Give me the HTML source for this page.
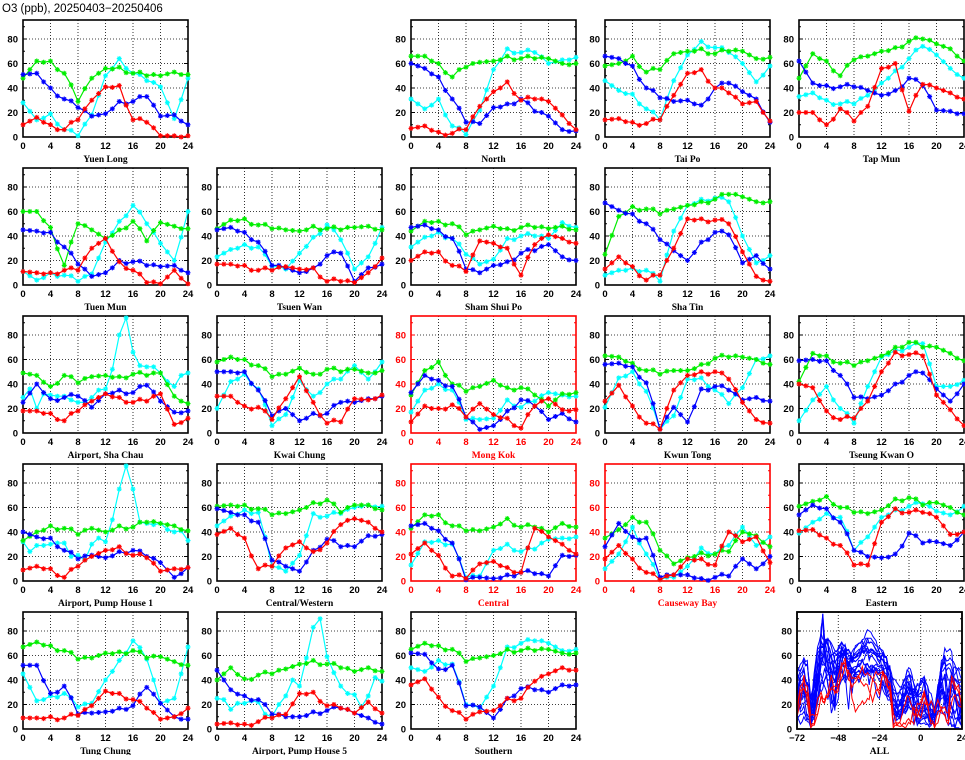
<!DOCTYPE html>
<html><head><meta charset="utf-8"><style>
body{margin:0;background:#fff;width:965px;height:755px;overflow:hidden}
svg text{font-family:"Liberation Sans",sans-serif;font-weight:bold}
</style></head><body>
<svg id="s" width="965" height="755" xmlns="http://www.w3.org/2000/svg">
<text x="2" y="12" font-size="11.5" style="font-weight:normal">O3 (ppb), 20250403−20250406</text>
</svg>
<script>
const S=[
[0,0,"Yuen Long",0,[[28,14,19,6,1,18,50,64,52,46,41,15,48],[48,62,62,52,29,48,56,57,52,50,50,53,51],[51,52,40,31,24,17,19,29,29,33,17,18,10],[10,16,10,6,14,30,41,42,14,12,1,1,1]]],
[0,2,"North",0,[[31,23,31,9,2,22,55,72,69,69,60,63,65],[66,66,60,49,57,61,62,66,64,64,64,60,60],[60,56,49,31,12,11,24,27,31,21,17,6,5],[7,9,4,3,6,25,37,45,30,31,29,18,6]]],
[0,3,"Tai Po",0,[[46,38,35,23,14,46,67,78,73,69,60,45,58],[58,60,66,53,55,68,70,72,68,70,70,64,65],[66,64,58,40,32,29,30,26,40,44,37,31,12],[14,15,12,11,14,34,52,55,40,36,27,29,13]]],
[0,4,"Tap Mun",0,[[33,36,30,27,27,34,44,54,64,74,67,56,48],[48,68,62,50,63,66,70,73,78,80,76,72,62],[62,44,42,41,41,38,34,38,48,42,22,21,19],[20,20,10,23,13,25,56,60,21,43,40,36,31]]],
[1,0,"Tuen Mun",0,[[11,4,10,8,3,9,35,52,65,50,34,20,60],[60,60,47,16,50,45,38,45,52,36,51,48,46],[45,44,43,31,17,7,10,20,19,16,15,16,10],[11,10,10,12,12,30,38,19,12,2,1,12,1]]],
[1,1,"Tsuen Wan",0,[[23,29,33,31,15,13,26,39,49,37,13,23,47],[46,53,54,49,46,45,44,48,46,45,47,48,45],[45,47,43,35,16,14,10,14,24,26,3,14,17],[17,17,16,12,12,15,13,14,3,3,2,10,22]]],
[1,2,"Sham Shui Po",0,[[31,39,43,38,25,17,21,38,40,40,38,51,47],[44,52,52,50,41,45,48,46,47,47,46,48,45],[47,49,45,38,13,10,16,19,26,28,33,23,20],[20,27,27,16,11,36,34,30,8,33,41,38,34]]],
[1,3,"Sha Tin",0,[[8,12,14,12,3,44,65,70,71,68,40,18,24],[25,56,64,62,58,62,65,68,70,74,72,68,68],[67,61,58,50,37,28,20,35,43,41,18,24,13],[13,23,15,4,8,30,54,54,53,50,27,7,3]]],
[2,0,"Airport, Sha Chau",0,[[29,36,20,32,31,30,30,27,25,25,29,35,36,52,80,94,66,55,54,54,49,42,38,47,49],[49,47,38,47,41,46,47,46,48,47,49,30,24],[25,40,28,29,30,21,32,35,33,39,26,17,18],[18,18,16,10,18,26,32,29,25,26,32,7,12]]],
[2,1,"Kwai Chung",0,[[20,42,48,36,6,15,43,30,40,44,55,44,58],[58,62,60,55,46,48,53,48,52,50,52,49,51],[50,50,50,35,14,20,10,16,16,25,25,28,30],[30,30,22,21,11,28,46,25,8,9,28,27,31]]],
[2,2,"Mong Kok",1,[[17,35,40,35,11,11,12,27,21,26,33,31,30],[31,51,58,40,34,38,43,37,37,31,22,32,33],[33,47,43,38,13,3,6,18,27,22,11,16,9],[9,22,20,23,13,24,15,12,4,22,28,19,19]]],
[2,3,"Kwun Tong",0,[[21,45,50,34,3,14,44,45,35,24,37,60,63],[63,62,57,51,48,51,51,56,61,62,62,60,56],[56,57,54,41,3,21,9,36,38,35,27,29,26],[26,39,22,8,3,35,47,50,50,44,25,11,8]]],
[2,4,"Tseung Kwan O",0,[[10,27,38,20,8,38,62,68,70,73,38,38,43],[42,65,63,57,55,59,63,70,74,70,70,65,59],[59,60,59,47,29,28,31,40,47,49,36,26,40],[40,37,18,11,12,26,50,66,64,63,31,19,6]]],
[3,0,"Airport, Pump House 1",0,[[32,24,29,29,30,31,31,20,21,17,30,35,32,50,75,94,75,48,47,46,47,42,40,41,33],[33,40,45,43,38,43,40,45,44,48,47,45,41],[40,36,35,25,18,21,19,24,25,20,15,3,11],[9,12,10,3,12,20,25,28,21,19,8,10,11]]],
[3,1,"Central/Western",0,[[45,53,58,56,12,8,21,55,53,55,60,62,61],[61,62,62,59,54,55,58,64,66,56,62,62,58],[59,56,54,48,17,12,8,25,34,28,28,37,38],[38,43,35,10,12,27,32,24,31,46,51,48,40]]],
[3,2,"Central",1,[[13,32,33,30,3,4,25,30,24,26,34,35,36],[43,54,54,45,41,41,44,51,44,44,40,47,44],[45,47,41,31,1,3,2,5,7,6,4,21,21],[22,31,21,4,2,14,16,11,7,43,36,30,22]]],
[3,3,"Causeway Bay",1,[[10,22,44,22,1,3,12,27,22,29,44,29,36],[35,42,52,48,25,14,19,23,22,24,40,37,28],[28,47,36,35,3,5,5,2,3,4,18,10,20],[18,29,18,7,1,5,18,18,13,40,32,36,15]]],
[3,4,"Eastern",0,[[39,48,55,52,25,36,52,58,61,63,57,54,61],[61,65,69,60,56,55,58,67,68,62,64,60,54],[54,62,59,48,25,20,19,22,39,31,32,29,40],[41,42,35,29,13,13,48,59,56,56,52,38,40]]],
[4,0,"Tung Chung",0,[[45,23,27,29,18,21,40,56,72,57,21,25,67],[67,71,68,64,57,58,62,63,64,58,59,55,52],[52,52,29,35,12,13,14,17,19,34,21,10,8],[9,9,10,9,11,19,31,29,24,17,8,10,17]]],
[4,1,"Airport, Pump House 5",0,[[25,24,16,21,21,23,22,12,10,20,27,40,35,58,83,90,59,46,35,29,28,18,27,42,39],[40,50,41,44,45,49,53,56,53,50,47,50,47],[48,32,27,24,12,10,10,14,15,17,13,9,4],[4,5,4,6,9,12,29,30,19,17,13,22,13]]],
[4,2,"Southern",0,[[50,47,56,53,20,17,35,67,70,72,70,64,65],[65,70,68,65,55,58,60,65,64,64,65,62,62],[62,61,49,52,19,18,9,25,33,32,30,36,36],[36,41,26,15,8,14,15,25,25,39,45,50,48]]]
];
const COLS=["#00ffff","#00ee00","#0000ff","#ff0000"];
const svg=document.getElementById('s');let h='';
function expand(a){if(a.length==25)return a;let o=[];for(let i=0;i<24;i++){let k=i>>1;o.push(i%2?((a[k]+a[k+1])/2+((i*7)%5-2)):a[k]);}o.push(a[12]);return o;}
const W=165,H=117,YM=95.5;
function frame(x0,yb,red,xl,xr,xt,name){
 const c=red?'#ff0000':'#000';let t=yb-H;
 h+=`<g stroke="#000" stroke-width="0.8" stroke-dasharray="1,2">`;
 for(let i=1;i<xt.length-1;i++){let x=x0+(xt[i]-xl)/(xr-xl)*W;h+=`<line x1="${x}" y1="${t}" x2="${x}" y2="${yb}"/>`;}
 for(let v=20;v<=80;v+=20){let y=yb-v*H/YM;h+=`<line x1="${x0}" y1="${y}" x2="${x0+W}" y2="${y}"/>`;}
 h+=`</g><g stroke="${c}" stroke-width="1">`;
 for(let v=0;v<=90;v+=10){let y=yb-v*H/YM;let L=v%20?2:4;h+=`<line x1="${x0}" y1="${y}" x2="${x0+L}" y2="${y}"/><line x1="${x0+W-L}" y1="${y}" x2="${x0+W}" y2="${y}"/>`;}
 h+=`</g><rect x="${x0}" y="${t}" width="${W}" height="${H}" fill="none" stroke="${c}" stroke-width="1.6"/>`;
 for(let v=0;v<=80;v+=20){let y=yb-v*H/YM+3.5;h+=`<text x="${x0-5}" y="${y}" font-size="9.5" text-anchor="end" fill="${c}">${v}</text>`;}
 for(const v of xt){let x=x0+(v-xl)/(xr-xl)*W;h+=`<text x="${x}" y="${yb+12}" font-size="9.5" text-anchor="middle" fill="${c}">${v<0?'−'+(-v):v}</text>`;}
 h+=`<text x="${x0+W/2}" y="${yb+25}" font-size="9.5" text-anchor="middle" fill="${c}" style="font-family:'Liberation Serif',serif">${name}</text>`;
}
function star(x,y,c){return `<path d="M${x-2.5} ${y}h5M${x} ${y-2.5}v5M${x-1.8} ${y-1.8}l3.6 3.6M${x-1.8} ${y+1.8}l3.6 -3.6" stroke="${c}" stroke-width="1.1"/>`;}
const allLines=[];
for(const [r,c,name,red,ser] of S){
 const x0=23+194*c, yb=137+148*r;
 frame(x0,yb,red,0,24,[0,4,8,12,16,20,24],name);
 const full=ser.map(expand);
 full.forEach((d,si)=>{let pts=d.map((v,i)=>[x0+i*W/24,yb-Math.max(0,v)*H/YM]);
  h+=`<polyline fill="none" stroke="${COLS[si]}" stroke-width="1.2" points="${pts.map(p=>p[0].toFixed(1)+','+p[1].toFixed(1)).join(' ')}"/>`;
  pts.forEach(p=>h+=star(p[0],p[1],COLS[si]));});
 let cat=[];for(let k=0;k<4;k++){let d=full[k];for(let i=0;i<(k==3?25:24);i++)cat.push(d[i]);}
 allLines.push([cat,red]);
}
// ALL panel
{const x0=797,yb=729;frame(x0,yb,0,-72,24,[-72,-48,-24,0,24],"ALL");
 allLines.sort((a,b)=>a[1]-b[1]);
 for(const [cat,red] of allLines){
  let pts=cat.map((v,i)=>(x0+i*W/96).toFixed(1)+','+(yb-Math.max(0,v)*H/YM).toFixed(1));
  h+=`<polyline fill="none" stroke="${red?'#ff0000':'#0000ff'}" stroke-width="1" points="${pts.join(' ')}"/>`;}
 h+=`<rect x="${x0}" y="${yb-H}" width="${W}" height="${H}" fill="none" stroke="#000" stroke-width="1.6"/>`;
}
svg.insertAdjacentHTML('beforeend',h);
</script>
</body></html>
